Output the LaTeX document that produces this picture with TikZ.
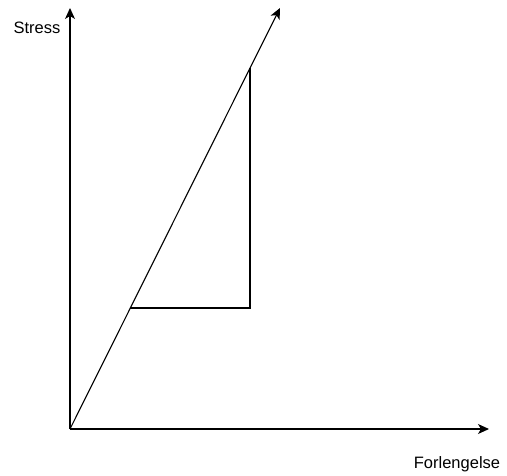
\documentclass[tikz,border=0pt]{standalone}
\usepackage{fontspec}
\setmainfont{Liberation Sans}
\usetikzlibrary{arrows.meta}
\begin{document}
\begin{tikzpicture}[x=1pt,y=-1pt,line width=1.1pt,
  axis/.style={-{Stealth[length=11pt,width=10pt,inset=3pt]}},
  lbl/.style={font=\fontsize{16.5}{19}\selectfont,inner sep=0pt}]
  \useasboundingbox (0,0) rectangle (507,475);
  \coordinate (o) at (70,429);
  \coordinate (ytop) at (70,8);
  \coordinate (xend) at (489,429);
  \coordinate (dtop) at (280,8);
  \coordinate (tc) at (250,68);
  \coordinate (tb) at (250,308);
  \coordinate (ta) at (130.4,308);
  \draw[axis] (o) -- (ytop);
  \draw[axis] (o) -- (xend);
  \draw[axis] (o) -- (dtop);
  \draw (ta) -- (tb) -- (tc);
  \node[lbl] (ylab) at (37,28) {Stress};
  \node[lbl] (xlab) at (457,464) {Forlengelse};
\end{tikzpicture}
\end{document}
